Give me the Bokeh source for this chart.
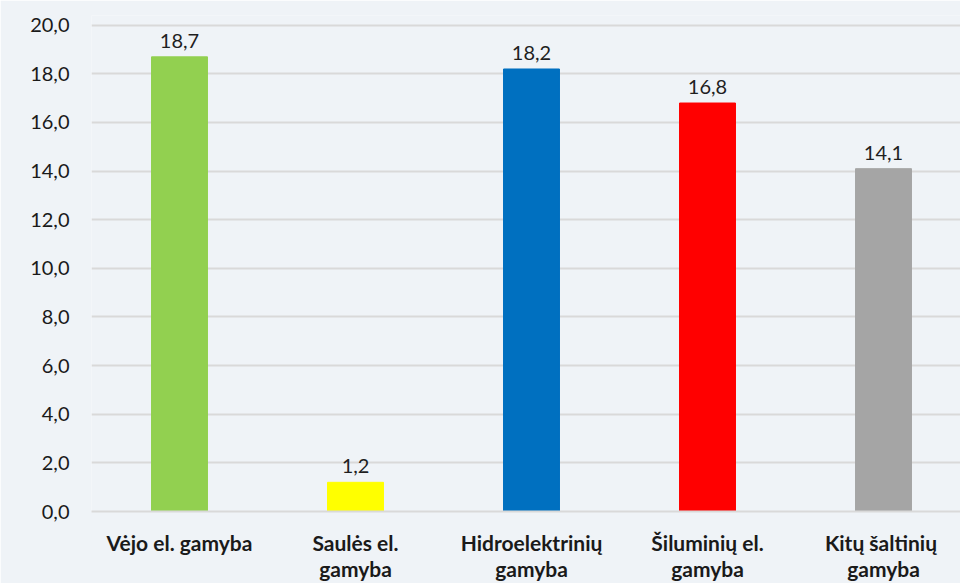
from bokeh.plotting import figure
from bokeh.models import Range1d, FixedTicker, ColumnDataSource
from bokeh.core.properties import value
from bokeh.embed import file_html
from bokeh.resources import INLINE

categories = ["Vėjo el. gamyba", "Saulės el.\ngamyba", "Hidroelektrinių\ngamyba",
              "Šiluminių el.\ngamyba", "Kitų  šaltinių\ngamyba"]
values = [18.7, 1.2, 18.2, 16.8, 14.1]
labels = ["18,7", "1,2", "18,2", "16,8", "14,1"]
colors = ["#92D050", "#FFFF00", "#0070C0", "#FF0000", "#A5A5A5"]
yticks = [0, 2, 4, 6, 8, 10, 12, 14, 16, 18, 20]

BG = "#EFF3F7"
FONT = "Lato"

xs = list(range(len(categories)))
src = ColumnDataSource(dict(x=xs, top=values, color=colors, label=labels))

p = figure(width=960, height=583, output_backend="svg", toolbar_location=None,
           x_range=Range1d(-0.5, 4.4375), y_range=Range1d(0, 20.4),
           min_border_left=91, min_border_right=0, min_border_top=15, min_border_bottom=72)
p.background_fill_color = BG
p.border_fill_color = BG
p.outline_line_color = None

p.vbar(x="x", top="top", width=0.318, color="color", source=src)
p.text(x="x", y="top", text="label", source=src, text_align="center", text_baseline="bottom",
       y_offset=-9, text_font=value(FONT), text_font_size="20px", text_color="#1f1f1f")

p.xaxis.ticker = FixedTicker(ticks=xs)
p.xaxis.major_label_overrides = {i: c for i, c in enumerate(categories)}
p.xaxis.major_label_text_font = FONT
p.xaxis.major_label_text_font_style = "bold"
p.xaxis.major_label_text_font_size = "21px"
p.xaxis.major_label_text_color = "#1a1a1a"
p.xaxis.major_label_text_line_height = 1.05
p.xaxis.major_label_standoff = 12
p.xaxis.major_tick_line_color = None
p.xaxis.minor_tick_line_color = None
p.xaxis.axis_line_color = "#D9D9D9"
p.xaxis.axis_line_width = 2
p.xgrid.grid_line_color = None

p.yaxis.ticker = FixedTicker(ticks=yticks)
p.yaxis.major_label_overrides = {t: f"{t:.1f}".replace(".", ",") for t in yticks}
p.yaxis.major_label_text_font = FONT
p.yaxis.major_label_text_font_size = "20px"
p.yaxis.major_label_text_color = "#1a1a1a"
p.yaxis.major_label_standoff = 16
p.yaxis.major_tick_line_color = None
p.yaxis.minor_tick_line_color = None
p.yaxis.axis_line_color = None
p.ygrid.grid_line_color = "#D9D9D9"
p.ygrid.grid_line_width = 2

html = file_html(p, INLINE)
html = html.replace("<body>", '<body style="background:%s">' % BG, 1)
open("out.html", "w").write(html)
